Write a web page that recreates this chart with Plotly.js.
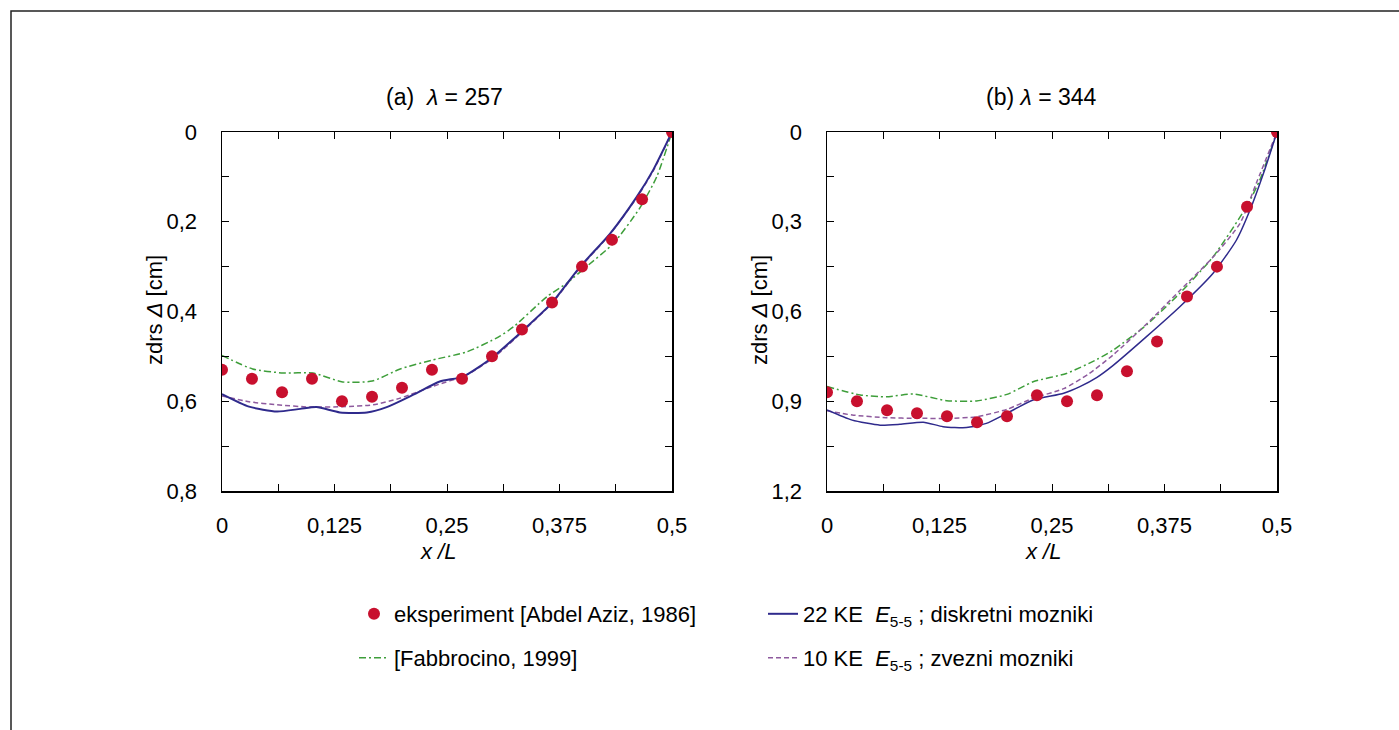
<!DOCTYPE html>
<html>
<head>
<meta charset="utf-8">
<script src="https://cdn.plot.ly/plotly-3.0.1.min.js"></script>
<style>html,body{margin:0;padding:0;background:#fff;}#chart{width:1399px;height:730px;}</style>
</head>
<body>
<div id="chart"></div>
<script>
// ---- data ----
const xExp = [0, 0.0333, 0.0667, 0.1, 0.1333, 0.1667, 0.2, 0.2333, 0.2667, 0.3, 0.3333, 0.3667, 0.4, 0.4333, 0.4667, 0.5];
const expA = [0.53, 0.55, 0.58, 0.55, 0.60, 0.59, 0.57, 0.53, 0.55, 0.50, 0.44, 0.38, 0.30, 0.24, 0.15, 0];
const expB = [0.87, 0.90, 0.93, 0.94, 0.95, 0.97, 0.95, 0.88, 0.90, 0.88, 0.80, 0.70, 0.55, 0.45, 0.25, 0];

const xBlueA = [0, 0.03, 0.061, 0.087, 0.105, 0.131, 0.161, 0.183, 0.212, 0.242, 0.268, 0.3, 0.335, 0.366, 0.398, 0.431, 0.461, 0.479, 0.5];
const yBlueA = [0.584, 0.612, 0.623, 0.617, 0.613, 0.625, 0.625, 0.613, 0.586, 0.556, 0.545, 0.503, 0.441, 0.382, 0.300, 0.227, 0.144, 0.085, 0];
const xPurA = [0, 0.03, 0.061, 0.098, 0.134, 0.168, 0.198, 0.234, 0.272, 0.301, 0.335, 0.366, 0.398, 0.431, 0.461, 0.479, 0.5];
const yPurA = [0.588, 0.601, 0.608, 0.613, 0.612, 0.608, 0.593, 0.567, 0.541, 0.504, 0.443, 0.383, 0.302, 0.228, 0.146, 0.087, 0];
const xGrA = [0, 0.034, 0.068, 0.101, 0.134, 0.167, 0.198, 0.234, 0.272, 0.307, 0.324, 0.361, 0.383, 0.405, 0.435, 0.464, 0.483, 0.5];
const yGrA = [0.498, 0.528, 0.537, 0.537, 0.557, 0.555, 0.528, 0.508, 0.490, 0.457, 0.434, 0.367, 0.337, 0.300, 0.248, 0.170, 0.100, 0];

const xBlueB = [0, 0.028, 0.059, 0.081, 0.107, 0.129, 0.155, 0.177, 0.2, 0.229, 0.263, 0.281, 0.3, 0.318, 0.355, 0.392, 0.429, 0.455, 0.47, 0.485, 0.5];
const yBlueB = [0.929, 0.963, 0.980, 0.977, 0.970, 0.985, 0.988, 0.974, 0.940, 0.896, 0.873, 0.851, 0.82, 0.78, 0.684, 0.584, 0.472, 0.361, 0.261, 0.138, 0];
const xPurB = [0, 0.028, 0.066, 0.1, 0.137, 0.166, 0.2, 0.229, 0.263, 0.29, 0.318, 0.355, 0.392, 0.429, 0.459, 0.477, 0.5];
const yPurB = [0.932, 0.946, 0.955, 0.957, 0.957, 0.952, 0.927, 0.890, 0.858, 0.81, 0.745, 0.642, 0.530, 0.418, 0.305, 0.171, 0];
const xGrB = [0, 0.037, 0.066, 0.096, 0.133, 0.166, 0.2, 0.229, 0.266, 0.3, 0.318, 0.355, 0.392, 0.429, 0.466, 0.481, 0.5];
const yGrB = [0.851, 0.879, 0.885, 0.876, 0.898, 0.899, 0.877, 0.835, 0.807, 0.76, 0.729, 0.645, 0.539, 0.417, 0.25, 0.16, 0];

// labelled (major) ticks; unlabelled minor ticks sit halfway between them
const xTickVals = [0, 0.125, 0.25, 0.375, 0.5];
const xTickText = ['0', '0,125', '0,25', '0,375', '0,5'];
const yTickValsA = [0, 0.2, 0.4, 0.6, 0.8];
const yTickTextA = ['0', '0,2', '0,4', '0,6', '0,8'];
const yTickValsB = [0, 0.3, 0.6, 0.9, 1.2];
const yTickTextB = ['0', '0,3', '0,6', '0,9', '1,2'];

const names = {
  exp: 'eksperiment [Abdel Aziz, 1986]',
  gr: '[Fabbrocino, 1999]',
  blue: '22 KE  <i>E</i><sub>5-5</sub> ; diskretni mozniki',
  pur: '10 KE  <i>E</i><sub>5-5</sub> ; zvezni mozniki'
};

// ---- styles ----
const W = 1399, H = 730;
const FONT = 'Arial, "Liberation Sans", sans-serif';
const cRed = '#C8102E', cBlue = '#2F2A8C', cPur = '#8E5A9E', cGr = '#3E9E3A';
const px = v => v / W, py = v => 1 - v / H;

function lineTrace(x, y, xa, ya, color, width, dash, name, show, legend) {
  return {x: x, y: y, xaxis: xa, yaxis: ya, type: 'scatter', mode: 'lines', name: name,
    showlegend: show, legend: legend,
    line: {color: color, width: width, dash: dash, shape: 'spline', smoothing: 0.6}};
}
function expTrace(y, xa, ya, show) {
  return {x: xExp, y: y, xaxis: xa, yaxis: ya, type: 'scatter', mode: 'markers', name: names.exp,
    showlegend: show, legend: 'legend',
    marker: {color: cRed, size: 12, symbol: 'circle', line: {width: 0}}};
}

const dashGr = '7px,3px,2px,3px', dashPur = '5px,3px';
const data = [
  lineTrace(xGrA, yGrA, 'x', 'y', cGr, 1.5, dashGr, names.gr, true, 'legend3'),
  lineTrace(xPurA, yPurA, 'x', 'y', cPur, 1.5, dashPur, names.pur, true, 'legend4'),
  lineTrace(xBlueA, yBlueA, 'x', 'y', cBlue, 2, 'solid', names.blue, true, 'legend2'),
  expTrace(expA, 'x', 'y', true),
  lineTrace(xGrB, yGrB, 'x2', 'y2', cGr, 1.5, dashGr, names.gr, false, 'legend3'),
  lineTrace(xPurB, yPurB, 'x2', 'y2', cPur, 1.5, dashPur, names.pur, false, 'legend4'),
  lineTrace(xBlueB, yBlueB, 'x2', 'y2', cBlue, 1.5, 'solid', names.blue, false, 'legend2'),
  expTrace(expB, 'x2', 'y2', false)
];

const tickFont = {family: FONT, size: 22, color: '#000'};
function axisBase(vals, text, minorStep, standoff) {
  return {tickmode: 'array', tickvals: vals, ticktext: text,
    ticks: 'inside', ticklen: 7, tickwidth: 1, tickcolor: '#000',
    minor: {dtick: minorStep, tick0: 0, ticks: 'inside', ticklen: 7, tickwidth: 1, tickcolor: '#000', showgrid: false},
    showline: true, linecolor: '#000', linewidth: 1.5, mirror: 'allticks',
    showgrid: false, zeroline: false, ticklabelstandoff: standoff, tickfont: tickFont};
}
function xAxis(domain, anchor) {
  return Object.assign(axisBase(xTickVals, xTickText, 0.0625, 14), {domain: domain, anchor: anchor, range: [0, 0.5]});
}
function yAxis(domain, anchor, range, vals, text, step) {
  return Object.assign(axisBase(vals, text, step, 19), {domain: domain, anchor: anchor, range: range});
}

const yDom = [py(491), py(132)];
function legendAt(xpix, ypix) {
  return {orientation: 'h', x: px(xpix), y: py(ypix), xanchor: 'left', yanchor: 'middle',
    bgcolor: 'rgba(0,0,0,0)', borderwidth: 0, font: {family: FONT, size: 22, color: '#000'}};
}

const ann = (text, x, y, opts) => Object.assign({text: text, x: px(x), y: py(y), xref: 'paper', yref: 'paper',
  showarrow: false, xanchor: 'center', yanchor: 'middle', font: {family: FONT, size: 22, color: '#000'}}, opts || {});
const titleFont = {family: FONT, size: 23, color: '#000'};

const layout = {
  width: W, height: H,
  margin: {l: 0, r: 0, t: 0, b: 0},
  paper_bgcolor: '#fff', plot_bgcolor: '#fff',
  showlegend: true,
  xaxis: xAxis([px(222), px(672)], 'y'),
  yaxis: yAxis(yDom, 'x', [0.8, 0], yTickValsA, yTickTextA, 0.1),
  xaxis2: xAxis([px(827), px(1277)], 'y2'),
  yaxis2: yAxis(yDom, 'x2', [1.2, 0], yTickValsB, yTickTextB, 0.15),
  legend: legendAt(354, 614),
  legend2: legendAt(763, 614),
  legend3: legendAt(354, 658),
  legend4: legendAt(763, 658),
  annotations: [
    ann('(a)  <i>λ</i> = 257', 444, 97, {font: titleFont}),
    ann('(b) <i>λ</i> = 344', 1041, 97, {font: titleFont}),
    ann('zdrs <i>Δ</i> [cm]', 155, 310, {textangle: -90}),
    ann('zdrs <i>Δ</i> [cm]', 760, 310, {textangle: -90}),
    ann('<i>x /L</i>', 438, 551),
    ann('<i>x /L</i>', 1043, 551)
  ],
  shapes: [
    {type: 'rect', xref: 'paper', yref: 'paper', x0: px(11), x1: px(1410), y0: py(745), y1: py(11),
     line: {color: '#222', width: 1.5}, fillcolor: 'rgba(0,0,0,0)', layer: 'below'}
  ]
};

Plotly.newPlot('chart', data, layout, {displayModeBar: false, staticPlot: true});
</script>
</body>
</html>
